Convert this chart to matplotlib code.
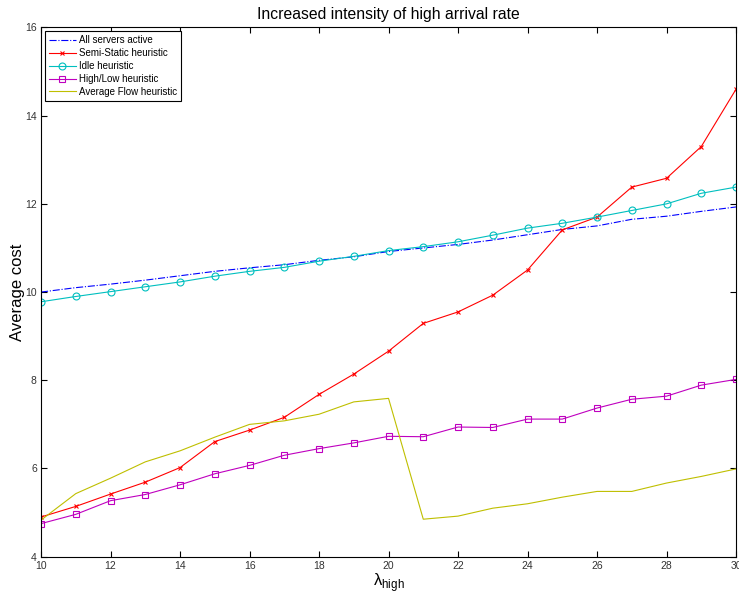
import numpy as np
import matplotlib.pyplot as plt

# lambda_high values
lam_high = list(range(10, 31))

all_active = [10.0, 10.1, 10.18, 10.27, 10.37, 10.47, 10.55, 10.62, 10.72, 10.8, 10.92,
              11.0, 11.08, 11.18, 11.3, 11.42, 11.5, 11.65, 11.72, 11.83, 11.93]
semi_static = [4.9, 5.14, 5.42, 5.69, 6.02, 6.61, 6.87, 7.16, 7.68, 8.14, 8.66,
               9.29, 9.55, 9.93, 10.5, 11.41, 11.7, 12.38, 12.58, 13.3, 14.6]
idle = [9.78, 9.9, 10.01, 10.12, 10.23, 10.36, 10.47, 10.56, 10.7, 10.81, 10.94,
        11.03, 11.14, 11.29, 11.45, 11.56, 11.7, 11.85, 12.0, 12.24, 12.38]
high_low = [4.75, 4.96, 5.27, 5.41, 5.63, 5.88, 6.07, 6.3, 6.45, 6.58, 6.73,
            6.72, 6.94, 6.93, 7.12, 7.12, 7.37, 7.57, 7.64, 7.89, 8.02]
avg_flow = [4.83, 5.43, 5.78, 6.15, 6.4, 6.71, 7.0, 7.08, 7.23, 7.51, 7.59,
            4.85, 4.92, 5.1, 5.2, 5.35, 5.48, 5.48, 5.67, 5.82, 5.99]

plt.rcParams['font.family'] = ['Liberation Sans', 'DejaVu Sans']
plt.rcParams['mathtext.fontset'] = 'custom'
plt.rcParams['mathtext.rm'] = 'Liberation Sans'

fig = plt.figure(figsize=(7.39, 5.94), dpi=100)
ax = fig.add_axes([0.0555, 0.0628, 0.9405, 0.891])

lw = 0.8
ax.plot(lam_high, all_active, '-.', color='b', lw=lw, label='All servers active')
ax.plot(lam_high, semi_static, '-x', color='r', lw=lw, ms=3.5, mew=0.8,
        label='Semi-Static heuristic')
ax.plot(lam_high, idle, '-o', color='c', lw=lw, ms=5, mfc='none', mew=0.8,
        label='Idle heuristic')
ax.plot(lam_high, high_low, '-s', color='m', lw=lw, ms=5, mfc='none', mew=0.8,
        label='High/Low heuristic')
ax.plot(lam_high, avg_flow, '-', color='y', lw=lw, label='Average Flow heuristic')

ax.set_xlim(10, 30)
ax.set_ylim(4, 16)
ax.set_xticks(range(10, 31, 2))
ax.set_yticks(range(4, 17, 2))
ax.tick_params(direction='in', top=True, right=True, labelsize=7.5, length=4,
               labelcolor='#333333', pad=3)

ax.set_title('Increased intensity of high arrival rate', fontsize=11.3)
ax.set_xlabel('λ$_{\\rm high}$', fontsize=12, labelpad=0)
ax.set_ylabel('Average cost', fontsize=12, labelpad=0)

leg = ax.legend(loc='upper left', fontsize=7, fancybox=False, framealpha=1,
                edgecolor='black', borderaxespad=0.4, handlelength=2.8,
                handletextpad=0.3, labelspacing=0.3)
leg.get_frame().set_linewidth(0.8)

fig.savefig('out.png', dpi=100)
